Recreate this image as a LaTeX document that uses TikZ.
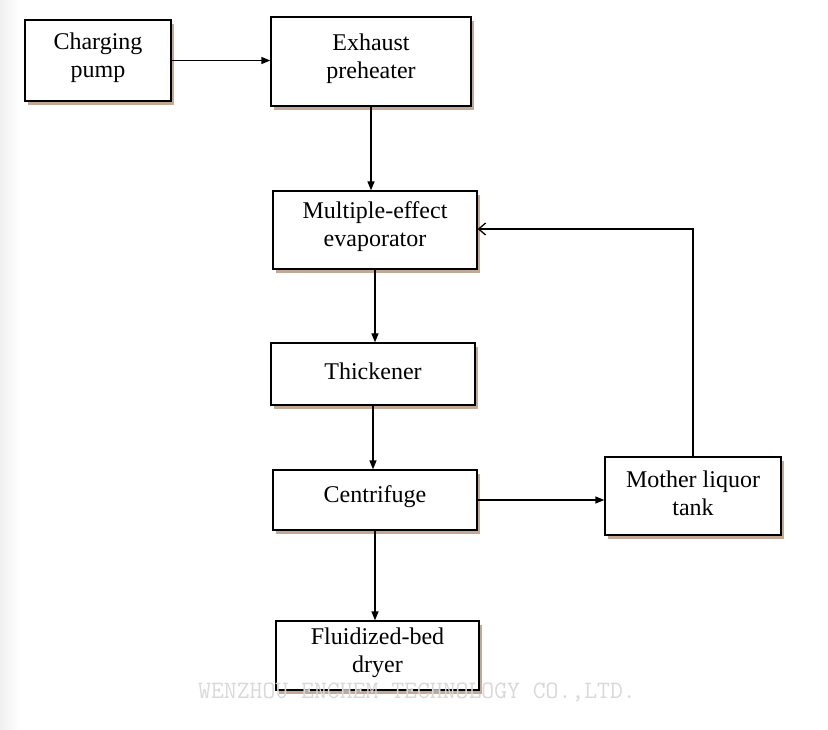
\documentclass[tikz,border=0pt]{standalone}
\usepackage{fontspec}
\setmainfont{Liberation Serif}
\usetikzlibrary{arrows.meta,calc}
\definecolor{shad}{RGB}{196,168,150}
\begin{document}
\begin{tikzpicture}[x=1pt,y=-1pt,
  box/.style={draw=black,line width=1.3pt,fill=white,inner sep=0pt},
  lbl/.style={align=center,font=\fontsize{24}{28}\selectfont,inner sep=0pt},
  arr/.style={line width=1.3pt,-{Triangle[length=9pt,width=7pt]}},
  oarr/.style={line width=1.3pt,-{Straight Barb[length=7pt,width=12pt]}}]
\useasboundingbox (0,0) rectangle (828,730);
\fill[white] (0,0) rectangle (828,730);
\shade[left color=black!6,right color=white] (0,0) rectangle (20,730);
\newcommand{\mybox}[6]{% name, x1,y1,x2,y2,text
  \fill[shad] (#2+3,#3+4) rectangle (#4+3,#5+4);
  \node[box,minimum width=#4-#2,minimum height=#5-#3] (#1) at ({(#2+#4)/2},{(#3+#5)/2}) {};
  \node[lbl,yshift=3pt] (#1-t) at (#1) {#6};}
\mybox{cp}{25}{20}{171}{101}{Charging\\pump}
\mybox{ep}{271}{17}{471}{106}{Exhaust\\preheater}
\mybox{mee}{273}{191}{477}{269}{Multiple-effect\\evaporator}
\mybox{th}{271}{343}{475}{405}{Thickener}
\mybox{cf}{273}{470}{477}{530}{Centrifuge}
\mybox{ml}{605}{457}{781}{535}{Mother liquor\\tank}
\mybox{fd}{276}{621}{479}{690}{Fluidized-bed\\dryer}
\draw[arr] (cp.east) -- (cp.east -| ep.west);
\draw[arr] (ep.south) -- (ep.south |- mee.north);
\draw[arr] (mee.south) -- (mee.south |- th.north);
\draw[arr] (th.south) -- (th.south |- cf.north);
\draw[arr] (cf.east) -- (cf.east -| ml.west);
\draw[arr] (cf.south) -- (cf.south |- fd.north);
\coordinate (corner) at (ml.north |- 0,229);
\draw[oarr] (ml.north) -- (corner) -- (corner -| mee.east);
\node[text=black!15,font=\fontsize{25}{28}\ttfamily] (wm) at (417,692) {WENZHOU ENCHEM TECHNOLOGY CO.,LTD.};
\end{tikzpicture}
\end{document}
